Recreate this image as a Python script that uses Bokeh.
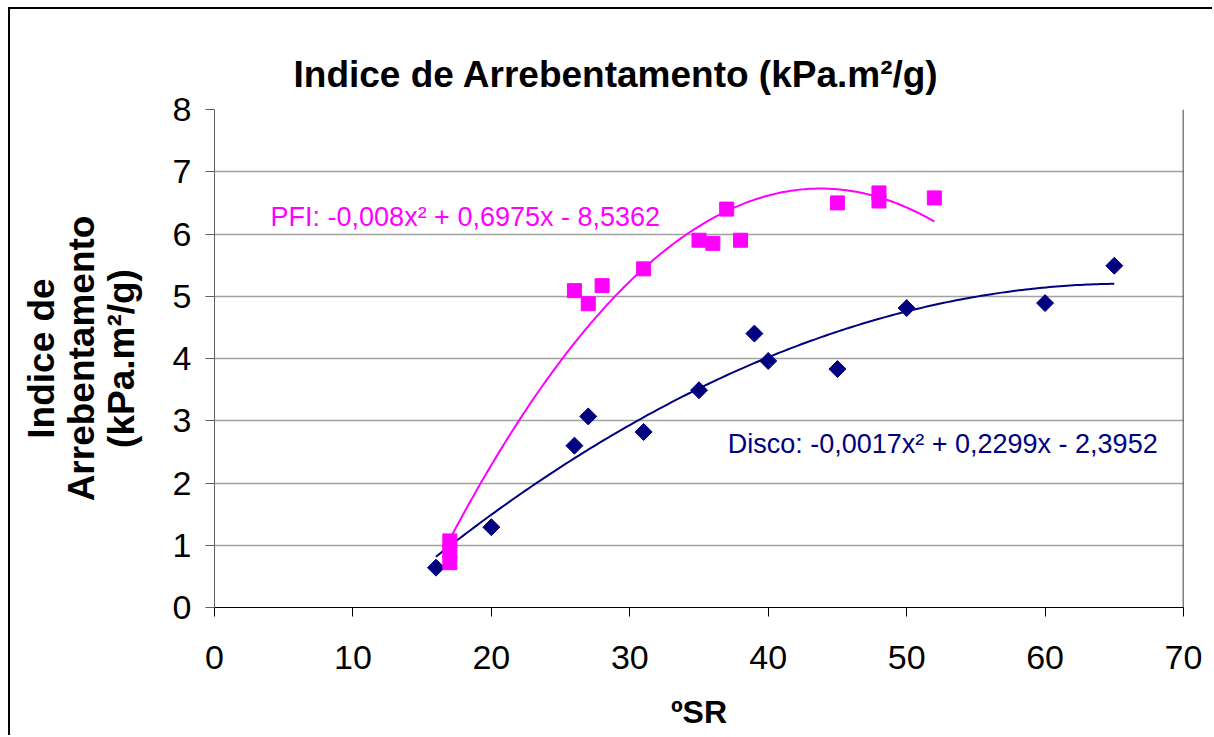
import numpy as np
from bokeh.plotting import figure
from bokeh.models import Label, Span, Range1d, FixedTicker
from bokeh.embed import file_html
from bokeh.resources import INLINE

# ---- data ----
pfi_x = [17, 17, 17, 26, 27, 28, 31, 35, 36, 37, 38, 45, 48, 48, 52]
pfi_y = [1.07, 0.90, 0.72, 5.09, 4.88, 5.17, 5.44, 5.90, 5.85, 6.40, 5.90, 6.50, 6.66, 6.53, 6.58]
disco_x = [16, 20, 26, 27, 31, 35, 39, 40, 45, 50, 60, 65]
disco_y = [0.64, 1.29, 2.60, 3.07, 2.82, 3.49, 4.40, 3.96, 3.83, 4.81, 4.89, 5.49]
x_ticks = [0, 10, 20, 30, 40, 50, 60, 70]
y_ticks = [0, 1, 2, 3, 4, 5, 6, 7, 8]
title_text = "Indice de Arrebentamento (kPa.m²/g)"
ylabel_text = "Indice de\nArrebentamento\n(kPa.m²/g)"
xlabel_text = "ºSR"
pfi_eq = "PFI: -0,008x² + 0,6975x - 8,5362"
disco_eq = "Disco: -0,0017x² + 0,2299x - 2,3952"

PINK = "#FF00FF"
NAVY = "#000080"
FONT = "Liberation Sans"

p = figure(width=1204, height=728, output_backend="svg", toolbar_location=None,
           x_range=Range1d(0, 70), y_range=Range1d(0, 8),
           min_border_left=204, min_border_right=31, min_border_top=100, min_border_bottom=130)
p.margin = (9, 0, 0, 10)
p.styles = {"box-shadow": "-2px -2px 0px 0px black"}
p.outline_line_color = None
p.background_fill_color = "white"
p.border_fill_color = "white"

p.title.text = title_text
p.title.text_font = FONT
p.title.text_font_size = "37px"
p.title.text_font_style = "bold"
p.title.text_color = "black"
p.title.align = "left"
p.title.offset = 79
p.title.standoff = 29

p.xgrid.visible = False
p.ygrid.grid_line_color = "#A0A0A0"
p.ygrid.grid_line_width = 1.5
p.ygrid.ticker = FixedTicker(ticks=y_ticks)

p.xaxis.ticker = FixedTicker(ticks=x_ticks)
p.yaxis.ticker = FixedTicker(ticks=y_ticks)
for ax in (p.xaxis[0], p.yaxis[0]):
    ax.major_label_text_font = FONT
    ax.major_label_text_font_size = "34px"
    ax.major_label_text_color = "black"
    ax.minor_tick_line_color = None
    ax.major_tick_in = 0
    ax.major_tick_out = 9
    ax.axis_label_text_font = FONT
    ax.axis_label_text_font_style = "bold"
    ax.axis_label_text_color = "black"
p.xaxis.axis_line_color = "black"
p.xaxis.major_tick_line_color = "black"
p.xaxis.major_label_standoff = 29
p.xaxis.axis_label = xlabel_text
p.xaxis.axis_label_text_font_size = "32px"
p.xaxis.axis_label_standoff = 22

p.yaxis.axis_line_color = "#606060"
p.yaxis.major_tick_line_color = "#606060"
p.yaxis.major_label_standoff = 14
p.yaxis.axis_label = ylabel_text
p.yaxis.axis_label_text_font_size = "37px"
p.yaxis.axis_label_text_line_height = 0.97
p.yaxis.axis_label_standoff = 28

# right frame border
p.add_layout(Span(location=70, dimension="height", line_color="black", line_width=1.5))

# trendlines (least squares, 2nd order, from the data)
for xs, ys, col in ((pfi_x, pfi_y, PINK), (disco_x, disco_y, NAVY)):
    c = np.polyfit(xs, ys, 2)
    tx = np.linspace(min(xs), max(xs), 200)
    p.line(tx, np.polyval(c, tx), line_color=col, line_width=2)

p.scatter(disco_x, disco_y, marker="square", angle=np.pi / 4, size=12,
          fill_color=NAVY, line_color=NAVY)
p.scatter(pfi_x, pfi_y, marker="square", size=14, fill_color=PINK, line_color=PINK)

# equations
p.add_layout(Label(x=4.05, y=6.27, text=pfi_eq, text_font=FONT, text_font_size="27px",
                   text_color=PINK, text_baseline="middle", text_align="left"))
p.add_layout(Label(x=37.07, y=2.63, text=disco_eq, text_font=FONT, text_font_size="27px",
                   text_color=NAVY, text_baseline="middle", text_align="left"))

open("out.html", "w").write(file_html(p, INLINE))
